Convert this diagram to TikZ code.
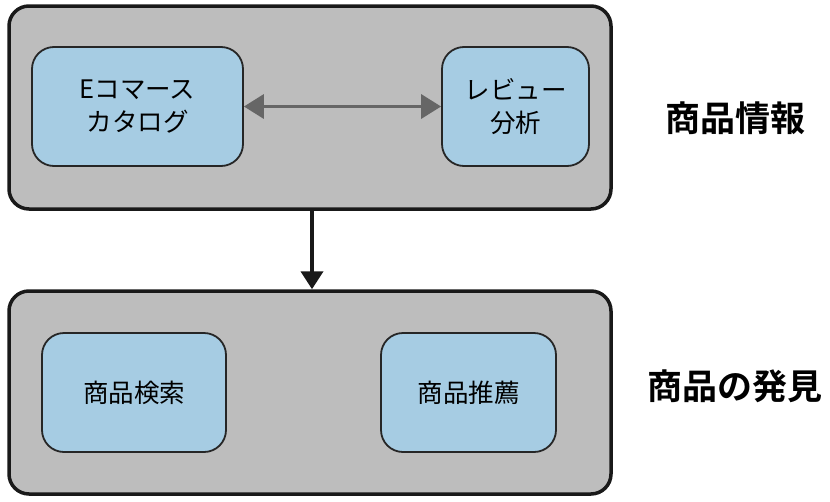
\documentclass[tikz,border=0pt]{standalone}
\usepackage{fontspec}
\setmainfont{Noto Sans CJK JP}[BoldFont={Noto Sans CJK JP Bold}]
\usetikzlibrary{arrows.meta}
\definecolor{groupGray}{HTML}{BDBDBD}
\definecolor{itemBlue}{HTML}{A6CCE3}
\definecolor{linkGray}{HTML}{666666}

\begin{document}
\begin{tikzpicture}
[x=1pt,y=-1pt,
  groupBox/.style={draw=black!90,fill=groupGray,line width=3.5pt,rounded corners=20pt,
    minimum width=602pt,minimum height=203pt,inner sep=0pt},
  itemBox/.style={draw=black!85,fill=itemBlue,line width=1.8pt,rounded corners=22pt,
    minimum height=119pt,inner sep=0pt,align=center,
    font=\fontsize{25.5}{33}\selectfont},
  groupLabel/.style={font=\fontsize{35}{40}\selectfont\bfseries},
  linkDecorate/.style={{Triangle[length=20pt,width=24pt]}-{Triangle[length=20pt,width=24pt]},linkGray,line width=3.5pt},
  flowDecorate/.style={-{Triangle[length=18pt,width=22pt]},black!90,line width=4pt}]
\useasboundingbox (0,0) rectangle (830,501);
%% group boxes
\node (info) at (310,107.5) [groupBox] {};
\node (discover) at (310,392.5) [groupBox] {};
%% item boxes
\foreach \nodename/\boxwidth/\x/\y/\txt in {
  ecom/211/137.5/106.5/{Eコマース\\カタログ}, review/147/515.5/106.5/{レビュー\\分析},
  search/184/134/392.5/{商品検索}, recommend/175/468.5/392.5/{商品推薦}}
{
  \node (\nodename) at (\x,\y) [itemBox,minimum width=\boxwidth pt] {\txt};
}
%% group labels
\node (infoLabel) at (735,118) [groupLabel] {商品情報};
\node (discoverLabel) at (735,386) [groupLabel] {商品の発見};
%% edges or lines
\draw[linkDecorate] (ecom) -- (review);
\draw[flowDecorate] (info.south -| 312,0) -- (discover.north -| 312,0);
\end{tikzpicture}
\end{document}
